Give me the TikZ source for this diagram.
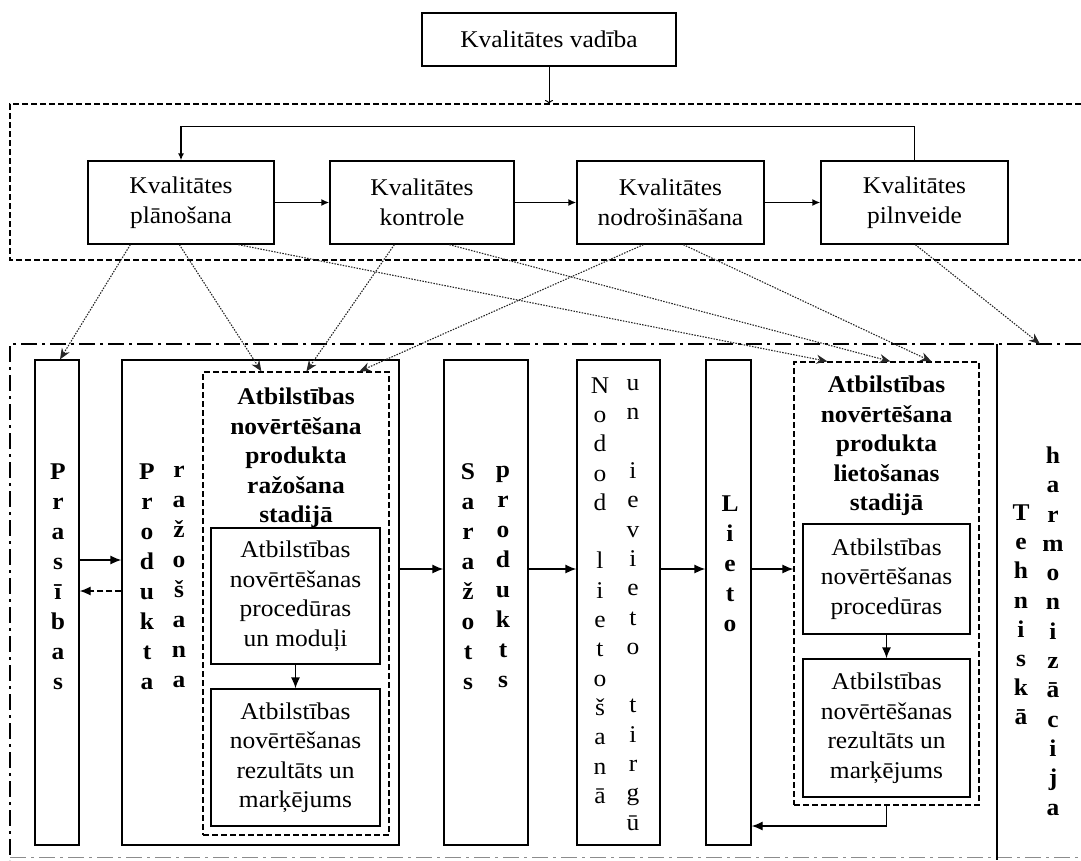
\documentclass[tikz,border=0pt]{standalone}
\usepackage{fontspec}
\setmainfont{Liberation Serif}[FakeStretch=1.06]
\usetikzlibrary{arrows.meta}
\begin{document}
\begin{tikzpicture}[x=1pt,y=-1pt,
  box/.style={draw, line width=1.3pt, inner sep=0pt, align=center, font=\fontsize{24}{29.5}\selectfont},
  ubox/.style={box, font=\fontsize{24}{30}\selectfont},
  dbox/.style={draw, line width=1.2pt, dash pattern=on 6pt off 3pt, inner sep=0pt},
  vstack/.style={inner sep=0pt, align=center, font=\fontsize{24}{30}\bfseries\selectfont},
  vstackn/.style={inner sep=0pt, align=center, font=\fontsize{24}{29.3}\selectfont},
  head/.style={inner sep=0pt, align=center, anchor=north, font=\fontsize{24}{29.4}\bfseries\selectfont},
  arr/.style={line width=1.3pt, -{Latex[length=11pt,width=9pt]}},
  uarr/.style={line width=1.8pt, -{Latex[length=8pt,width=7pt]}},
  smallarr/.style={line width=1pt, -{To[length=4pt,width=8pt]}},
  dotarr/.style={line width=1.1pt, black!85, dash pattern=on 1.5pt off 1.3pt, -{Stealth[length=11pt,width=9pt]}},
  upframe/.style={line width=1.3pt, dash pattern=on 6pt off 3pt},
  loframe/.style={line width=1.2pt, dash pattern=on 16pt off 5pt on 3pt off 5pt}
]
\useasboundingbox (0,0) rectangle (1081,860);

% top node
\node[ubox, minimum width=254pt, minimum height=53pt] (vad) at (549,39.5) {Kvalitātes vadība};
\coordinate (upf) at (0,104);
\draw[smallarr] (vad.south) -- (vad.south |- upf);

% upper frame
\draw[upframe] (1081,104) -- (10,104) -- (10,260) -- (1081,260);

% quality boxes
\node[ubox, minimum width=186pt, minimum height=83pt] (v1) at (181,202.5) {Kvalitātes\\plānošana};
\node[ubox, minimum width=184pt, minimum height=83pt] (v2) at (422,202.5) {Kvalitātes\\kontrole};
\node[ubox, minimum width=187pt, minimum height=83pt] (v3) at (670.5,202.5) {Kvalitātes\\nodrošināšana};
\node[ubox, minimum width=187pt, minimum height=83pt] (v4) at (914.5,202.5) {Kvalitātes\\pilnveide};
\draw[uarr] (v1.east) -- (v2.west);
\draw[uarr] (v2.east) -- (v3.west);
\draw[uarr] (v3.east) -- (v4.west);
\draw[line width=1.5pt, -{Latex[length=7pt,width=6pt]}] (v4.north) -- ++(0,-34) -| (v1.north);

% lower frame
\draw[loframe] (1081,344) -- (10,344) -- (10,860);
\draw[loframe, black!45, line width=0.8pt] (10,857) -- (1081,857);
\draw[line width=1.3pt] (997,344) -- (997,860);
\coordinate (ht) at (1040,344);

% lower boxes
\node[box, minimum width=44pt, minimum height=485pt] (pras) at (57,602.5) {};
\node[box, minimum width=277pt, minimum height=485pt] (prod) at (260.5,602.5) {};
\node[dbox, minimum width=186pt, minimum height=463pt] (dash1) at (296,603.5) {};
\node[box, minimum width=169pt, minimum height=136pt] (ib1) at (295.5,596) {Atbilstības\\novērtēšanas\\procedūras\\un moduļi};
\node[box, minimum width=169pt, minimum height=137pt] (ib2) at (295.5,757.5) {Atbilstības\\novērtēšanas\\rezultāts un\\marķējums};
\node[box, minimum width=84pt, minimum height=485pt] (saraz) at (486,602.5) {};
\node[box, minimum width=83pt, minimum height=485pt] (nodod) at (618.5,602.5) {};
\node[box, minimum width=45pt, minimum height=485pt] (lieto) at (728.5,602.5) {};
\node[dbox, minimum width=185pt, minimum height=443pt] (dash2) at (886.5,583.5) {};
\node[box, minimum width=167pt, minimum height=110pt] (ibA) at (886.5,579) {Atbilstības\\novērtēšanas\\procedūras};
\node[box, minimum width=167pt, minimum height=138pt] (ibB) at (886.5,728) {Atbilstības\\novērtēšanas\\rezultāts un\\marķējums};

% headings
\node[head] (h1) at (296,388) {Atbilstības\\novērtēšana\\produkta\\ražošana\\stadijā};
\node[head] (h2) at (886.5,376) {Atbilstības\\novērtēšana\\produkta\\lietošanas\\stadijā};

% vertical texts
\node[vstack] (tpras) at (58,577) {P\\r\\a\\s\\ī\\b\\a\\s};
\node[vstack] (tprod) at (147,577) {P\\r\\o\\d\\u\\k\\t\\a};
\node[vstack] (trazo) at (179,577) {r\\a\\ž\\o\\š\\a\\n\\a};
\node[vstack] (tsar) at (468,577) {S\\a\\r\\a\\ž\\o\\t\\s};
\node[vstack] (tprd) at (503,577) {p\\r\\o\\d\\u\\k\\t\\s};
\node[vstackn] (tnod) at (600,590.5) {N\\o\\d\\o\\d\\\mbox{}\\l\\i\\e\\t\\o\\š\\a\\n\\ā};
\node[vstackn] (tiev) at (633,605) {u\\n\\\mbox{}\\i\\e\\v\\i\\e\\t\\o\\\mbox{}\\t\\i\\r\\g\\ū};
\node[vstack] (tlieto) at (730,564) {L\\i\\e\\t\\o};
\node[vstackn, font=\fontsize{24}{29.2}\bfseries\selectfont] (tteh) at (1021,615) {T\\e\\h\\n\\i\\s\\k\\ā};
\node[vstackn, font=\fontsize{24}{29.3}\bfseries\selectfont] (tharm) at (1053,631) {h\\a\\r\\m\\o\\n\\i\\z\\ā\\c\\i\\j\\a};

% lower arrows
\coordinate (yA) at (0,560);
\coordinate (yB) at (0,591);
\coordinate (yC) at (0,569);
\coordinate (yD) at (0,826);
\draw[arr] (pras.east |- yA) -- (prod.west |- yA);
\draw[arr, dash pattern=on 6pt off 3pt] (prod.west |- yB) -- (pras.east |- yB);
\draw[arr] (prod.east |- yC) -- (saraz.west |- yC);
\draw[arr] (saraz.east |- yC) -- (nodod.west |- yC);
\draw[arr] (nodod.east |- yC) -- (lieto.west |- yC);
\draw[arr] (lieto.east |- yC) -- (dash2.west |- yC);
\draw[arr] (dash2.south) |- (lieto.east |- yD);
\draw[arr] (ib1.south) -- (ib2.north);
\draw[arr] (ibA.south) -- (ibB.north);

% dotted arrows
\draw[dotarr] ([xshift=43pt]v1.south west) -- ([xshift=3pt]pras.north);
\draw[dotarr] ([xshift=92pt]v1.south west) -- ([xshift=59pt]dash1.north west);
\draw[dotarr] ([xshift=151pt]v1.south west) -- ([xshift=34pt]dash2.north west);
\draw[dotarr] ([xshift=65pt]v2.south west) -- ([xshift=104pt]dash1.north west);
\draw[dotarr] ([xshift=120pt]v2.south west) -- ([xshift=97pt]dash2.north west);
\draw[dotarr] ([xshift=67pt]v3.south west) -- ([xshift=157pt]dash1.north west);
\draw[dotarr] ([xshift=107pt]v3.south west) -- ([xshift=138pt]dash2.north west);
\draw[dotarr] ([xshift=95pt]v4.south west) -- (ht);
\end{tikzpicture}
\end{document}
